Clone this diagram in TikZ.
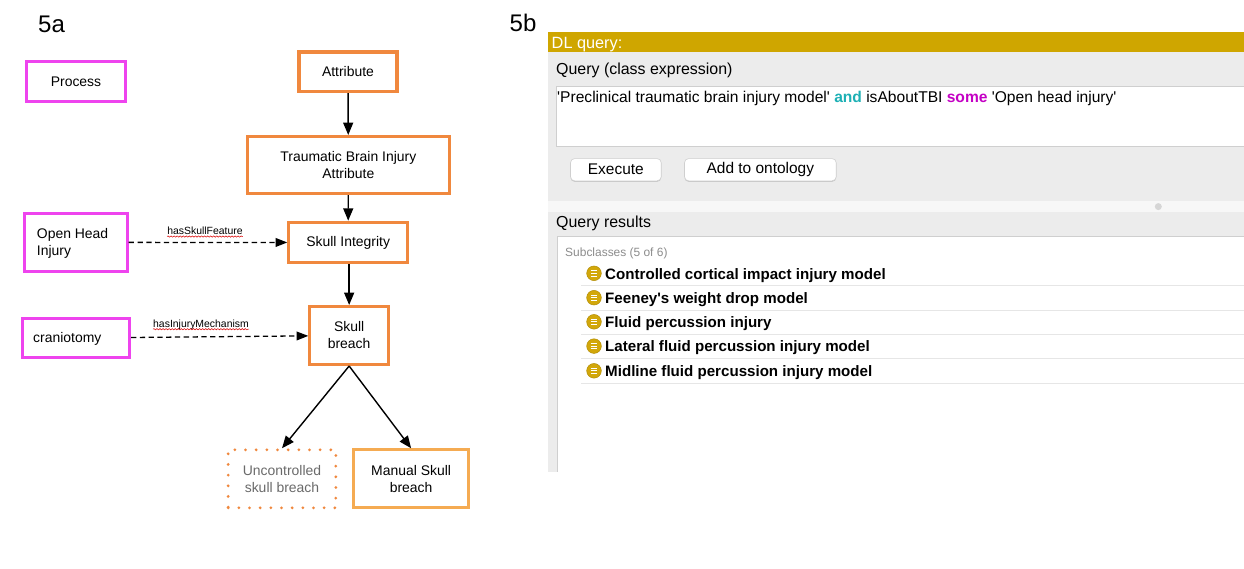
\documentclass[tikz,border=0pt]{standalone}
\usepackage{fontspec}
\setmainfont{Liberation Sans}
\newfontfamily\pf{Liberation Sans}
\usetikzlibrary{arrows.meta,decorations.pathmorphing,shadows}
\definecolor{orng}{HTML}{F0883E}
\definecolor{lorng}{HTML}{F5AB52}
\definecolor{pnk}{HTML}{EE44EE}
\definecolor{gold}{HTML}{CFA600}
\definecolor{panel}{HTML}{ECECEC}
\definecolor{andc}{HTML}{1DB0B5}
\definecolor{somec}{HTML}{C400C4}
\definecolor{subg}{HTML}{8C8C8C}
\definecolor{sepl}{HTML}{E6E6E6}
\definecolor{bordg}{HTML}{CFCFCF}
\definecolor{icong}{HTML}{D2A70A}
\definecolor{stripc}{HTML}{F7F7F7}
\definecolor{dotc}{HTML}{D6D6D6}
\definecolor{uncg}{HTML}{6A6A6A}
\begin{document}
\begin{tikzpicture}[x=0.03cm,y=-0.03cm,
  sz/.style 2 args={minimum width={#1*0.03cm}, minimum height={#2*0.03cm}},
  lbl/.style={font=\fontsize{11.9}{14.5}\selectfont, align=center},
  obox/.style={lbl, draw=orng, line width=2.6pt, inner sep=0pt},
  mbox/.style={lbl, draw=lorng, line width=2.6pt, inner sep=0pt},
  dbox/.style={lbl, draw=orng, line width=2.6pt, inner sep=0pt, dash pattern=on 0pt off 9.1pt, line cap=round, text=uncg},
  pbox/.style={lbl, draw=pnk, line width=2.6pt, inner sep=0pt},
  arr/.style={-{Triangle[length=10.5pt,width=8.5pt]}, line width=1.2pt},
  dsh/.style={-{Triangle[length=10pt,width=7.5pt]}, line width=1.1pt, dash pattern=on 4.5pt off 3pt},
  elbl/.style={font=\fontsize{8.9}{10}\selectfont, inner sep=0pt},
  squig/.style={red!85!black, line width=0.45pt, decorate, decoration={snake, amplitude=0.55pt, segment length=2.6pt}},
  ptxt/.style={font=\pf\fontsize{13.3}{15}\selectfont, inner sep=0pt, anchor=base west},
  btn/.style={font=\pf\fontsize{13.2}{15}\selectfont, draw=bordg, fill=white, line width=0.5pt, rounded corners=3.5pt, inner sep=0pt, drop shadow={shadow xshift=0pt, shadow yshift=-0.9pt, opacity=0.35, fill=black!45}},
  itm/.style={font=\pf\bfseries\fontsize{12.9}{15}\selectfont, inner sep=0pt, anchor=base west},
  icon/.style={circle, fill=icong, draw=icong!85!black, line width=0.4pt, minimum size=0.44cm, inner sep=0pt}
]
\useasboundingbox (0,0) rectangle (1244,569);
\fill[white] (0,0) rectangle (1244,569);

% ---------- 5a ----------
\node[anchor=base west, inner sep=0pt, font=\fontsize{20.5}{24}\selectfont] (l5a) at (38,33) {5a};

\node[pbox, sz={99}{40}] (proc) at (76,81.5) {Process};
\node[obox, sz={98}{39.5}] (attr) at (348,71.75) {Attribute};
\node[obox, sz={201.7}{57}] (tbi) at (348.35,165) {Traumatic Brain Injury\\Attribute};
\node[obox, sz={118.7}{40.6}] (si) at (348.15,242.5) {Skull Integrity};
\node[pbox, sz={102.4}{57.7}] (ohi) at (76,242.35) {};
\node[lbl, anchor=west, align=left, inner sep=0pt] (ohit) at (36.7,243) {Open Head\\Injury};
\node[pbox, sz={107.3}{39.6}] (cran) at (75.85,338) {};
\node[lbl, anchor=west, inner sep=0pt] (crant) at (33,338.5) {craniotomy};
\node[obox, sz={78.7}{58}] (sb) at (349.15,335.5) {Skull\\breach};
\node[dbox, sz={107.6}{58}] (unc) at (282,478.8) {Uncontrolled\\skull breach};
\node[mbox, sz={114.7}{58}] (man) at (411.15,478.8) {Manual Skull\\breach};

\draw[arr] (attr) -- (tbi);
\draw[arr] (tbi) -- (si);
\draw[arr] (sb.north |- si.south) -- (sb.north);
\draw[arr] (sb.south) -- (unc.north);
\draw[arr] (sb.south) -- (man.north);
\draw[dsh] (ohi) -- (si);
\draw[dsh] (cran) -- (sb);

\node[elbl, anchor=base] (e1) at (205,234.3) {hasSkullFeature};
\draw[squig] ([yshift=-1.9pt]e1.base west) -- ([yshift=-1.9pt]e1.base east);
\node[elbl, anchor=base] (e2) at (201,327) {hasInjuryMechanism};
\draw[squig] ([yshift=-1.9pt]e2.base west) -- ([yshift=-1.9pt]e2.base east);

% ---------- 5b ----------
\node[anchor=base west, inner sep=0pt, font=\fontsize{20.5}{24}\selectfont] (l5b) at (509.5,32) {5b};

\fill[panel] (547.5,31.7) rectangle (1244,471.7);
\fill[gold] (547.5,31.7) rectangle (1244,52.5);
\node[anchor=base west, inner sep=0pt, text=white, font=\pf\fontsize{13.9}{16}\selectfont] (dlq) at (551.5,48.3) {DL query:};

\node[anchor=base west, inner sep=0pt, font=\pf\fontsize{13.6}{16}\selectfont] (qce) at (556,75) {Query (class expression)};
\fill[white] (556,86) rectangle (1244,146.7);
\draw[bordg, line width=0.6pt] (1244,146.7) -- (556,146.7) -- (556,86) -- (1244,86);
\node[ptxt] (qtxt) at (557,102.3) {\textquotesingle Preclinical traumatic brain injury model\textquotesingle\ \textcolor{andc}{\bfseries and} isAboutTBI \textcolor{somec}{\bfseries some} \textquotesingle Open head injury\textquotesingle};

\node[btn, sz={90.7}{22.2}] (exe) at (615.85,169.7) {Execute};
\node[btn, sz={151.7}{22.2}] (add) at (760.35,169.7) {Add to ontology};

\fill[stripc] (547.5,201.2) rectangle (1244,211.7);
\fill[dotc] (1158.3,206.6) circle[radius=3.5];

\node[anchor=base west, inner sep=0pt, font=\pf\fontsize{13.6}{16}\selectfont] (qres) at (556,227) {Query results};
\fill[white] (557,236.7) rectangle (1244,471.7);
\draw[bordg, line width=0.6pt] (557,471.7) -- (557,236.7) -- (1244,236.7);

\node[anchor=base west, inner sep=0pt, text=subg, font=\pf\fontsize{10.2}{12}\selectfont] (subc) at (565,256.7) {Subclasses (5 of 6)};

\foreach \y in {285,310,334,358.3,383.3}
  \draw[sepl, line width=0.8pt] (581,\y) -- (1244,\y);

\foreach \y/\t [count=\i] in {273.3/Controlled cortical impact injury model,
  297.7/Feeney\textquotesingle s weight drop model,
  321.8/Fluid percussion injury,
  346.1/Lateral fluid percussion injury model,
  370.8/Midline fluid percussion injury model}{
  \node[icon] (ic\i) at (594,\y) {};
  \foreach \d in {-2.7,0,2.7}
    \draw[white, line width=0.8pt] ([shift={(-3.4,\d)}]ic\i.center) -- ([shift={(3.4,\d)}]ic\i.center);
  \node[itm] (it\i) at (605,\y+5.7) {\t};
}
\end{tikzpicture}
\end{document}
